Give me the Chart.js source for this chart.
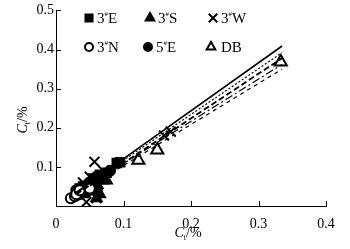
<!DOCTYPE html>
<html>
<head>
<meta charset="utf-8">
<script src="https://cdn.jsdelivr.net/npm/chart.js@4/dist/chart.umd.min.js"></script>
<style>
  html, body { margin: 0; padding: 0; background: #fff; }
  #wrap { width: 350px; height: 249px; }
</style>
</head>
<body>
<div id="wrap"><canvas id="c"></canvas></div>
<script>
// ── Dados ───────────────────────────────────────────────────
const xTicks = [0, 0.1, 0.2, 0.3, 0.4];
const yTicks = [0.1, 0.2, 0.3, 0.4, 0.5];

const e3X = [0.035, 0.040, 0.050, 0.055, 0.060, 0.065, 0.075, 0.090, 0.095];
const e3Y = [0.045, 0.050, 0.055, 0.070, 0.065, 0.080, 0.085, 0.110, 0.112];

const s3X = [0.040, 0.045, 0.055, 0.060, 0.065, 0.070, 0.075, 0.060];
const s3Y = [0.030, 0.045, 0.060, 0.050, 0.030, 0.065, 0.065, 0.020];

const w3X = [0.030, 0.040, 0.045, 0.057, 0.060, 0.050, 0.070, 0.160, 0.170];
const w3Y = [0.035, 0.060, 0.010, 0.113, 0.020, 0.075, 0.090, 0.180, 0.190];

const n3X = [0.022, 0.028, 0.030, 0.035, 0.050];
const n3Y = [0.020, 0.025, 0.030, 0.040, 0.045];

const e5X = [0.030, 0.035, 0.040, 0.045, 0.050, 0.055, 0.060, 0.065, 0.080];
const e5Y = [0.040, 0.030, 0.050, 0.035, 0.060, 0.045, 0.070, 0.075, 0.090];

const dbX = [0.060, 0.070, 0.122, 0.150, 0.333];
const dbY = [0.055, 0.075, 0.117, 0.143, 0.368];

// retas de ajuste (extremos)
const fitX   = [0.030, 0.335];
const fitY1  = [0.035, 0.409];
const fitY2  = [0.035, 0.392];
const fitY3  = [0.030, 0.378];
const fitY4  = [0.033, 0.362];
const fitY5  = [0.030, 0.350];

const pts = (xs, ys) => xs.map((x, i) => ({ x, y: ys[i] }));

function scatterSet(label, xs, ys, style, filled, r) {
    return {
        type: 'scatter', label, data: pts(xs, ys),
        pointStyle: style, pointRadius: r,
        backgroundColor: filled ? '#000' : '#fff',
        borderColor: '#000', pointBorderWidth: 2,
    };
}

function lineSet(ys, dash, w) {
    return {
        type: 'line', data: pts(fitX, ys), borderColor: '#000',
        borderWidth: w, borderDash: dash, pointRadius: 0, fill: false,
    };
}

const FONT = '"Liberation Serif", "DejaVu Serif", serif';

// ── Plugin: ticks para dentro, legenda e títulos ─────────────
const decor = {
    id: 'decor',
    afterDraw(chart) {
        const ctx = chart.ctx;
        const xs = chart.scales.x, ys = chart.scales.y;
        const a = chart.chartArea;
        ctx.save();
        ctx.strokeStyle = '#000';
        ctx.lineWidth = 1;
        ctx.beginPath();
        xTicks.forEach(v => {
            const px = Math.round(xs.getPixelForValue(v)) + 0.5;
            ctx.moveTo(px, a.bottom); ctx.lineTo(px, a.bottom - 5);
        });
        yTicks.forEach(v => {
            const py = Math.round(ys.getPixelForValue(v)) + 0.5;
            ctx.moveTo(a.left, py); ctx.lineTo(a.left + 5, py);
        });
        ctx.stroke();

        // legenda
        const items = [
            ['rect', true, '3', 'E', 89, 18],
            ['triangle', true, '3', 'S', 150, 18],
            ['crossRot', false, '3', 'W', 213, 18],
            ['circle', false, '3', 'N', 89, 47],
            ['circle', true, '5', 'E', 148, 47],
            ['triangle', false, '', 'DB', 211, 47],
        ];
        items.forEach(([st, filled, num, suf, x, y]) => {
            ctx.fillStyle = filled ? '#000' : '#fff';
            ctx.strokeStyle = '#000';
            ctx.lineWidth = 2;
            const r = st === 'circle' ? 4 : (st === 'crossRot' ? 6 : 5);
            Chart.helpers.drawPoint(ctx, { pointStyle: st, radius: r, borderWidth: 2 }, x, y);
            ctx.fillStyle = '#000';
            ctx.textBaseline = 'middle';
            ctx.textAlign = 'left';
            let tx = x + 8;
            if (num) {
                ctx.font = '15px ' + FONT;
                ctx.fillText(num, tx, y + 1);
                tx += ctx.measureText(num).width;
                ctx.font = '7px ' + FONT;
                ctx.fillText('#', tx, y - 4);
                tx += ctx.measureText('#').width;
            } else {
                tx += 2;
            }
            ctx.font = '15px ' + FONT;
            ctx.fillText(suf, tx, y + 1);
        });

        // títulos dos eixos
        const drawTitle = (cx, cy) => {
            ctx.textBaseline = 'alphabetic';
            ctx.textAlign = 'left';
            ctx.font = 'italic 14px ' + FONT;
            const wC = ctx.measureText('C').width;
            ctx.font = '8px ' + FONT;
            const wt = ctx.measureText('t').width;
            ctx.font = '14px ' + FONT;
            const wp = ctx.measureText('/%').width;
            let x0 = cx - (wC + wt + wp) / 2;
            ctx.font = 'italic 14px ' + FONT;
            ctx.fillText('C', x0, cy);
            x0 += wC;
            ctx.font = '8px ' + FONT;
            ctx.fillText('t', x0, cy + 3);
            x0 += wt;
            ctx.font = '14px ' + FONT;
            ctx.fillText('/%', x0, cy);
        };
        drawTitle(188, 237);
        ctx.save();
        ctx.translate(27, 120);
        ctx.rotate(-Math.PI / 2);
        drawTitle(0, 0);
        ctx.restore();
        ctx.restore();
    }
};

new Chart(document.getElementById('c'), {
    data: {
        datasets: [
            lineSet(fitY1, [], 1.6),
            lineSet(fitY2, [2, 2], 1.2),
            lineSet(fitY3, [6, 3], 1.8),
            lineSet(fitY4, [8, 3, 2, 3], 1.2),
            lineSet(fitY5, [4, 4], 1.2),
            scatterSet('3#N', n3X, n3Y, 'circle', false, 5),
            scatterSet('5#E', e5X, e5Y, 'circle', true, 5),
            scatterSet('3#E', e3X, e3Y, 'rect', true, 6),
            scatterSet('3#S', s3X, s3Y, 'triangle', true, 6),
            scatterSet('DB', dbX, dbY, 'triangle', false, 7),
            scatterSet('3#W', w3X, w3Y, 'crossRot', false, 7),
        ]
    },
    options: {
        responsive: true, maintainAspectRatio: false, animation: false,
        layout: { padding: { top: 10, right: 24, left: 0, bottom: 0 } },
        plugins: { legend: { display: false }, tooltip: { enabled: false } },
        scales: {
            x: {
                type: 'linear', min: 0, max: 0.4,
                afterBuildTicks: s => { s.ticks = xTicks.map(v => ({ value: v })); },
                afterFit: s => { s.height = 43; },
                grid: { display: false, drawTicks: false },
                border: { display: true, color: '#000', width: 1 },
                ticks: { color: '#000', padding: 10, font: { family: FONT, size: 14 },
                         callback: v => v === 0 ? '0' : v.toFixed(1) },
            },
            y: {
                type: 'linear', min: 0, max: 0.5,
                afterBuildTicks: s => { s.ticks = yTicks.map(v => ({ value: v })); },
                afterFit: s => { s.width = 56; },
                grid: { display: false, drawTicks: false },
                border: { display: true, color: '#000', width: 1 },
                ticks: { color: '#000', padding: 2, font: { family: FONT, size: 14 },
                         callback: v => v.toFixed(1) },
            }
        }
    },
    plugins: [decor]
});
</script>
</body>
</html>
